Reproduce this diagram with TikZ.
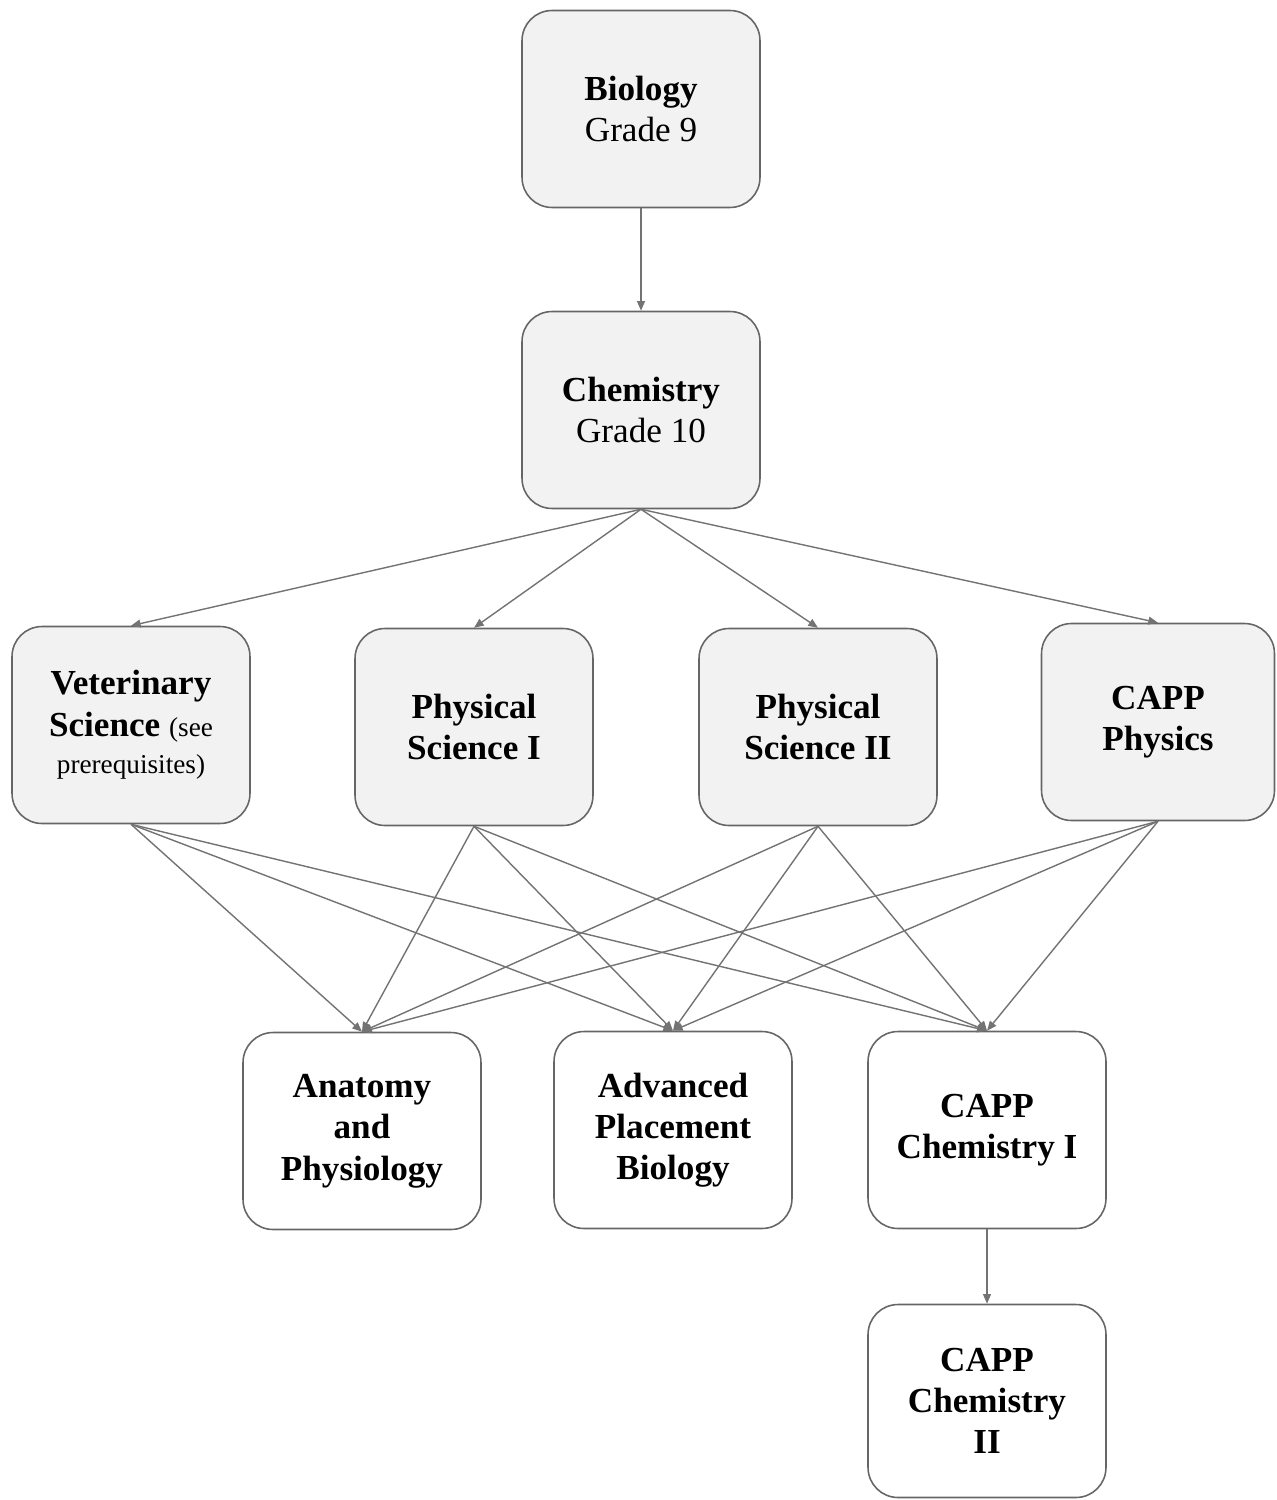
\documentclass[tikz,border=0pt]{standalone}
\usepackage{fontspec}
\setmainfont{Liberation Serif}
\usetikzlibrary{arrows.meta}
\begin{document}
\begin{tikzpicture}[x=0.02cm,y=-0.02cm,
  box/.style={draw=black!60, line width=0.9pt, rounded corners=0.6cm,
    minimum width=4.76cm, minimum height=3.94cm, align=center,
    font=\fontsize{20}{23.5}\selectfont, inner sep=2pt},
  gbox/.style={box, fill=black!5},
  wbox/.style={box, fill=white},
  small/.style={font=\fontsize{15.5}{20}\selectfont},
  conn/.style={draw=black!55, line width=0.8pt, -{Triangle[length=5.5pt,width=4.5pt]}}]
\useasboundingbox (0,0) rectangle (1276,1500);
\node[gbox] (bio) at (641,109) {\textbf{Biology}\\Grade 9};
\node[gbox] (chem) at (641,410) {\textbf{Chemistry}\\Grade 10};
\node[gbox] (vet) at (131,725) {\textbf{Veterinary}\\\textbf{Science} {\fontsize{15.5}{20}\selectfont (see}\\[-2pt]{\fontsize{15.5}{20}\selectfont prerequisites)}};
\node[gbox] (ps1) at (474,727) {\textbf{Physical}\\\textbf{Science I}};
\node[gbox] (ps2) at (818,727) {\textbf{Physical}\\\textbf{Science II}};
\node[gbox, minimum width=4.66cm] (phys) at (1158,722) {\textbf{CAPP}\\\textbf{Physics}};
\node[wbox] (ana) at (362,1131) {\textbf{Anatomy}\\\textbf{and}\\\textbf{Physiology}};
\node[wbox] (apb) at (673,1130) {\textbf{Advanced}\\\textbf{Placement}\\\textbf{Biology}};
\node[wbox] (ch1) at (987,1130) {\textbf{CAPP}\\\textbf{Chemistry I}};
\node[wbox, minimum height=3.86cm] (ch2) at (987,1401) {\textbf{CAPP}\\\textbf{Chemistry}\\\textbf{II}};
\draw[conn] (bio.south) -- (chem.north);
\foreach \t in {vet,ps1,ps2,phys} \draw[conn] (chem.south) -- (\t.north);
\foreach \s in {vet,ps1,ps2,phys}
  \foreach \t in {ana,apb,ch1} \draw[conn] (\s.south) -- (\t.north);
\draw[conn] (ch1.south) -- (ch2.north);
\end{tikzpicture}
\end{document}
